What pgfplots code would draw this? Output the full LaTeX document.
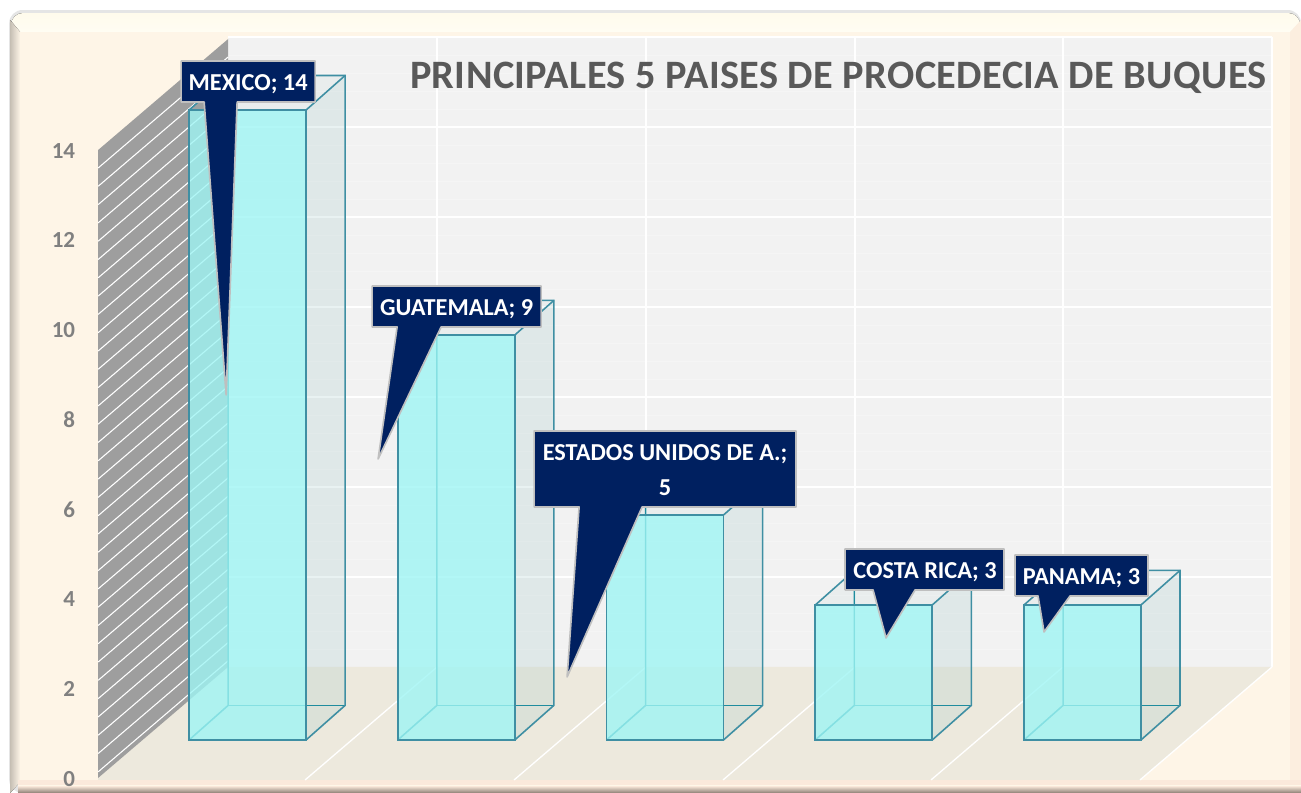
\documentclass[border=0pt]{standalone}
\usepackage{pgfplots}
\usepackage{fontspec}
\pgfplotsset{compat=1.18}
\setmainfont{Carlito}
\definecolor{navy}{HTML}{002060}
\definecolor{cream}{HTML}{FEF5E7}
\definecolor{wallc}{HTML}{F2F2F2}
\definecolor{floorc}{HTML}{EDE9DD}
\definecolor{hatch}{HTML}{9E9E9E}
\definecolor{edgec}{HTML}{3F8FA3}
\definecolor{backedge}{HTML}{1F8C9E}
\definecolor{sidec}{HTML}{9FC7C7}
\definecolor{frontc}{HTML}{9FF5F4}
\definecolor{topstrip}{HTML}{FFFBEC}
\definecolor{topstripb}{HTML}{FFFDF4}
\definecolor{rightstrip}{HTML}{FCEEDF}
\definecolor{bottomlight}{HTML}{FBE9DB}
\definecolor{bottomdark}{HTML}{8C7F75}
\pgfplotsset{
  pic/.style={scale only axis,width=780.6pt,height=475.8pt},
  pxaxis/.style={pic,hide axis,xmin=0,xmax=1301,ymin=0,ymax=793,y dir=reverse,clip=false},
}
% one 3-D box's side, top and back edges; #1 = position, #2 = value
\newcommand{\boxback}[2]{%
  \pgfmathsetmacro{\xa}{#1-0.2802}\pgfmathsetmacro{\xb}{#1+0.2802}%
  \pgfmathsetmacro{\xc}{#1-0.2802+0.1868}\pgfmathsetmacro{\xd}{#1+0.2802+0.1868}%
  \pgfmathsetmacro{\yt}{#2+0.767}%
  \addplot[fill=sidec,fill opacity=.22,draw=none,forget plot] coordinates {(\xb,0)(\xd,0.767)(\xd,\yt)(\xb,#2)} -- cycle;
  \addplot[fill=sidec,fill opacity=.1,draw=none,forget plot] coordinates {(\xa,#2)(\xc,\yt)(\xd,\yt)(\xb,#2)} -- cycle;
  \addplot[draw=backedge,line width=.95pt,forget plot] coordinates {(\xa,0)(\xc,0.767)(\xc,\yt)};
  \addplot[draw=backedge,line width=.95pt,forget plot] coordinates {(\xc,0.767)(\xd,0.767)};
  \addplot[draw=edgec,line width=.95pt,forget plot] coordinates {(\xb,0)(\xd,0.767)(\xd,\yt)(\xc,\yt)(\xa,#2)};
  \addplot[draw=edgec,line width=.95pt,forget plot] coordinates {(\xd,\yt)(\xb,#2)};
}
\newcommand{\calloutshape}[1]{\addplot[fill=navy,draw=black!25,line width=1pt,line join=round,forget plot] coordinates {#1} -- cycle;}
\begin{document}
\begin{tikzpicture}
% ---------- frame, walls and floor
\begin{axis}[pxaxis]
  \fill[white] (axis cs:0,0) rectangle (axis cs:1301,793);
  \fill[rounded corners=8pt,fill=black!10] (axis cs:9,10) rectangle (axis cs:1301,793);
  \fill[rounded corners=7pt,top color=topstrip,bottom color=topstripb] (axis cs:11,13) rectangle (axis cs:1300,34);
  \fill[left color=black!22!cream,right color=cream] (axis cs:10,20) -- (axis cs:20,32) -- (axis cs:20,782) -- (axis cs:10,793) -- cycle;
  \fill[fill=rightstrip] (axis cs:1290,32) -- (axis cs:1301,20) -- (axis cs:1301,793) -- (axis cs:1290,782) -- cycle;
  \fill[cream] (axis cs:20,32) rectangle (axis cs:1290,781);
  \fill[bottomlight] (axis cs:18,780) rectangle (axis cs:1301,786);
  \fill[top color=bottomlight,bottom color=bottomdark] (axis cs:18,786) rectangle (axis cs:1301,793);
  % back wall
  \fill[wallc] (axis cs:228,37) rectangle (axis cs:1272,667);
  \pgfplotsinvokeforeach{55,73,91,109,145,163,181,199,235,253,271,289,325,343,361,379,415,433,451,469,505,523,541,559,595,613,631,649}{
    \draw[white!22!wallc,line width=.5pt] (axis cs:228,#1) -- (axis cs:1272,#1);}
  \pgfplotsinvokeforeach{37,127,217,307,397,487,577}{
    \draw[white,line width=1.1pt] (axis cs:228,#1) -- (axis cs:1272,#1);}
  \pgfplotsinvokeforeach{437,646,855,1063,1272}{
    \draw[white,line width=1.1pt] (axis cs:#1,37) -- (axis cs:#1,667);}
  % floor
  \fill[floorc] (axis cs:98,778) -- (axis cs:228,667) -- (axis cs:1272,667) -- (axis cs:1140,780) -- (axis cs:98,780) -- cycle;
  \draw[white,line width=.8pt] (axis cs:437,667) -- (axis cs:305,780);
  \draw[white,line width=.8pt] (axis cs:646,667) -- (axis cs:514,780);
  \draw[white,line width=.8pt] (axis cs:855,667) -- (axis cs:723,780);
  \draw[white,line width=.8pt] (axis cs:1063,667) -- (axis cs:931,780);
  \draw[white,line width=.8pt] (axis cs:1272,667) -- (axis cs:1140,780);
  % left wall
  \fill[hatch] (axis cs:98,150) -- (axis cs:228,39) -- (axis cs:228,667) -- (axis cs:98,778) -- cycle;
  \pgfplotsinvokeforeach{168,186.3,...,770}{
    \draw[white,line width=.65pt] (axis cs:98,#1) -- (axis cs:228,{#1-111});}
\end{axis}
% ---------- value axis: 0 sits on the front foot of the left wall
\begin{axis}[pic,hide x axis,axis y line=left,
    y axis line style={draw=none},major tick length=0pt,
    xmin=0,xmax=1,ymin=-0.3344,ymax=17.343,
    ytick={0,2,4,6,8,10,12,14},
    /pgf/number format/assume math mode=true,
    yticklabel style={font=\fontsize{13.8pt}{14pt}\selectfont\bfseries,text=black!50,xshift=48.5pt,yshift=-.4pt,anchor=east}]
\end{axis}
% ---------- bars
\begin{axis}[pic,hide axis,xmin=-0.18563,xmax=6.04671,ymin=-1.17778,ymax=16.44444,clip=false]
  \boxback{1}{14}
  \boxback{2}{9}
  \boxback{3}{5}
  \boxback{4}{3}
  \boxback{5}{3}
  \addplot[ybar,bar width=70.2pt,bar shift=0pt,fill=frontc,fill opacity=.8,draw=edgec,line width=1.05pt]
    coordinates {(1,14)(2,9)(3,5)(4,3)(5,3)};
\end{axis}
% ---------- title and callouts
\begin{axis}[pxaxis]
  \calloutshape{(181,61)(315,61)(315,102)(237,102)(226,395)(204,102)(181,102)}
  \calloutshape{(372,286)(541,286)(541,327)(441,327)(378,459)(397,327)(372,327)}
  \calloutshape{(534,431)(796,431)(796,507)(642,507)(567,677)(579,507)(534,507)}
  \calloutshape{(845,549)(1004,549)(1004,590)(915,590)(886,638)(873,590)(845,590)}
  \calloutshape{(1015,555)(1148,555)(1148,596)(1070,596)(1044,632)(1038,596)(1015,596)}
  \tikzset{lab/.style={text=white,font=\fontsize{14.6pt}{17pt}\selectfont\bfseries,inner sep=0pt,align=center}}
  \node[lab] at (axis cs:248,84) {MEXICO; 14};
  \node[lab] at (axis cs:456.5,309) {GUATEMALA; 9};
  \node[lab] at (axis cs:665,470) {ESTADOS UNIDOS DE A.;\\[4pt]5};
  \node[lab] at (axis cs:925,572) {COSTA RICA; 3};
  \node[lab] at (axis cs:1081.5,578) {PANAMA; 3};
  \node[text=black!65,anchor=base east,inner sep=0pt,font=\fontsize{24.2pt}{26pt}\selectfont\bfseries\addfontfeatures{LetterSpace=0.9}] at (axis cs:1267,89) {PRINCIPALES 5 PAISES DE PROCEDECIA DE BUQUES};
\end{axis}
\end{tikzpicture}
\end{document}
